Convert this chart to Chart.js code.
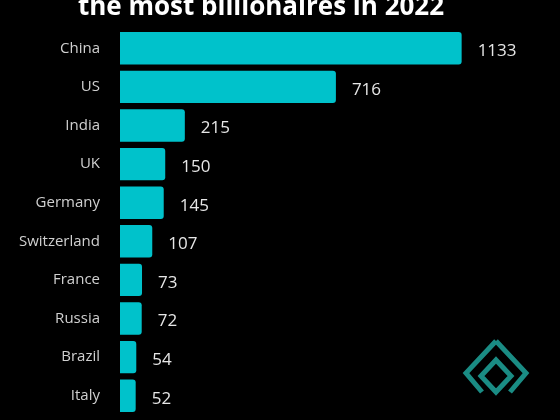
<!DOCTYPE html>
<html><head><meta charset="utf-8">
<script src="https://cdn.jsdelivr.net/npm/chart.js"></script>
<style>html,body{margin:0;background:#000;overflow:hidden}#w{width:560px;height:436px}</style>
</head><body><div id="w"><canvas id="c"></canvas></div>
<script>
const countries=["China","US","India","UK","Germany","Switzerland","France","Russia","Brazil","Italy"];
const billionaires=[1133,716,215,150,145,107,73,72,54,52];
const titleText="the most billionaires in 2022";
const extras={id:"extras",afterDraw(ch){
  const c=ch.ctx,x=ch.scales.x,y=ch.scales.y;
  c.save();
  c.fillStyle="#fff";c.font="bold 26px 'Open Sans'";c.textAlign="center";c.textBaseline="alphabetic";
  c.fillText(titleText,261,15);
  c.fillStyle="#e6e6e6";c.font="17px 'Open Sans'";c.textAlign="left";c.textBaseline="middle";
  billionaires.forEach((v,i)=>{c.fillText(String(v),x.getPixelForValue(v)+16,y.getPixelForValue(i)+3);});
  c.strokeStyle="#1a8c84";c.lineWidth=5;c.lineJoin="miter";
  const cx=496,cy=368;
  c.beginPath();c.moveTo(cx,cy-27);c.lineTo(cx+30,cy+5);c.lineTo(cx+14,cy+24);c.moveTo(cx,cy-27);c.lineTo(cx-30,cy+5);c.lineTo(cx-14,cy+24);c.stroke();
  c.beginPath();c.moveTo(cx,cy-8);c.lineTo(cx+15,cy+8);c.lineTo(cx,cy+24);c.lineTo(cx-15,cy+8);c.closePath();c.stroke();
  c.restore();
}};
new Chart(document.getElementById("c"),{type:"bar",
data:{labels:countries,datasets:[{data:billionaires,backgroundColor:"#00c2cb",borderRadius:3,barPercentage:0.84,categoryPercentage:1}]},
options:{indexAxis:"y",responsive:true,maintainAspectRatio:false,animation:false,
 layout:{padding:{top:29,bottom:0,right:48,left:0}},
 plugins:{legend:{display:false},tooltip:{enabled:false}},
 scales:{x:{display:false,min:0,max:1300,afterFit(s){s.height=0;}},
  y:{afterFit(s){s.width=120;},grid:{display:false},border:{display:false},
   ticks:{color:"#d0d0d0",padding:12,font:{family:"Open Sans",size:15}}}}},
plugins:[extras]});
</script></body></html>
